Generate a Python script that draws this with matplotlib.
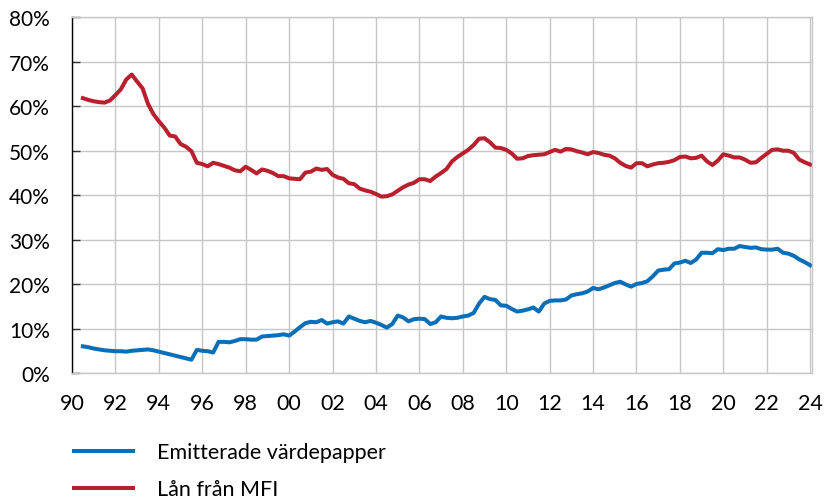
import numpy as np
import matplotlib.pyplot as plt

# kvartalsdata, andel i procent
years = np.arange(1990.5, 2024.01, 0.25)

emitterade = [
    6.1, 5.9, 5.6, 5.4, 5.2, 5.1, 5.0, 5.0, 4.9, 5.1, 5.2, 5.3, 5.4, 5.2,
    4.9, 4.6, 4.3, 4.0, 3.7, 3.4, 3.1, 5.3, 5.1, 5.0, 4.7, 7.1, 7.1, 7.0,
    7.3, 7.7, 7.7, 7.6, 7.6, 8.3, 8.4, 8.5, 8.6, 8.8, 8.5, 9.4, 10.4, 11.3,
    11.6, 11.5, 12.0, 11.2, 11.5, 11.7, 11.2, 12.8, 12.3, 11.8, 11.5, 11.8,
    11.4, 10.9, 10.3, 11.1, 13.0, 12.6, 11.7, 12.2, 12.3, 12.2, 11.1, 11.5,
    12.8, 12.5, 12.4, 12.5, 12.8, 13.0, 13.6, 15.7, 17.2, 16.7, 16.5, 15.3,
    15.2, 14.5, 13.9, 14.1, 14.4, 14.8, 13.9, 15.7, 16.3, 16.4, 16.4, 16.6,
    17.5, 17.8, 18.0, 18.4, 19.2, 18.9, 19.3, 19.8, 20.3, 20.6, 20.0, 19.5,
    20.1, 20.3, 20.7, 21.8, 23.1, 23.3, 23.4, 24.7, 24.9, 25.3, 24.8, 25.6,
    27.1, 27.1, 27.0, 27.9, 27.7, 28.0, 28.0, 28.6, 28.4, 28.2, 28.3, 27.9,
    27.8, 27.8, 28.0, 27.1, 26.9, 26.4, 25.6, 25.0, 24.3,
]

lan_mfi = [
    61.8, 61.4, 61.1, 60.9, 60.8, 61.3, 62.5, 63.8, 66.0, 67.1, 65.5, 64.0,
    60.5, 58.2, 56.6, 55.2, 53.4, 53.2, 51.5, 50.9, 49.9, 47.3, 47.0, 46.5,
    47.3, 47.0, 46.6, 46.2, 45.6, 45.4, 46.4, 45.7, 44.9, 45.8, 45.5, 45.0,
    44.3, 44.3, 43.8, 43.7, 43.6, 45.1, 45.3, 46.0, 45.7, 45.9, 44.6, 44.0,
    43.7, 42.7, 42.5, 41.5, 41.1, 40.8, 40.3, 39.7, 39.8, 40.2, 41.0, 41.8,
    42.4, 42.8, 43.6, 43.6, 43.2, 44.2, 45.0, 45.9, 47.6, 48.6, 49.4, 50.2,
    51.3, 52.7, 52.8, 51.9, 50.7, 50.6, 50.2, 49.4, 48.2, 48.3, 48.8, 49.0,
    49.1, 49.2, 49.7, 50.2, 49.8, 50.4, 50.3, 49.9, 49.6, 49.2, 49.7, 49.5,
    49.1, 48.9, 48.3, 47.3, 46.6, 46.2, 47.2, 47.2, 46.5, 46.9, 47.2, 47.3,
    47.5, 47.9, 48.6, 48.7, 48.3, 48.4, 48.9, 47.6, 46.8, 47.8, 49.2, 48.9,
    48.5, 48.5, 48.0, 47.3, 47.4, 48.4, 49.3, 50.2, 50.3, 50.0, 50.0, 49.5,
    48.0, 47.4, 46.9,
]

x_ticks = list(range(1990, 2025, 2))
x_labels = ['%02d' % (y % 100) for y in x_ticks]
y_ticks = list(range(0, 81, 10))
y_labels = ['%d%%' % v for v in y_ticks]

blue = '#0a6fb7'
red = '#b8202e'
grid_col = '#c6c6c6'

plt.rcParams['font.family'] = ['Lato', 'DejaVu Sans']

fig = plt.figure(figsize=(8.27, 5.02), dpi=100)
ax = fig.add_axes([0.0871, 0.254, 0.8949, 0.710])

ax.plot(years, emitterade, color=blue, linewidth=2.9, label='Emitterade värdepapper',
        solid_joinstyle='round')
ax.plot(years, lan_mfi, color=red, linewidth=2.9, label='Lån från MFI',
        solid_joinstyle='round')

ax.set_xlim(1990, 2024.09)
ax.set_ylim(0, 80)
ax.set_xticks(x_ticks)
ax.set_xticklabels(x_labels)
ax.set_yticks(y_ticks)
ax.set_yticklabels(y_labels)

ax.grid(True, color=grid_col, linewidth=1.0)
ax.set_axisbelow(True)
for side in ['top', 'right', 'bottom']:
    ax.spines[side].set_color(grid_col)
    ax.spines[side].set_linewidth(1.0)
ax.spines['left'].set_color('black')
ax.spines['left'].set_linewidth(1.0)

ax.tick_params(axis='y', direction='in', length=6, width=1, color='#333333',
               labelsize=15, pad=16)
ax.tick_params(axis='x', length=0, labelsize=15.5, pad=14)

fig.legend(loc='upper left', bbox_to_anchor=(0.0895, 0.117),
           frameon=False, fontsize=15.5, handlelength=2.75, handletextpad=1.1,
           labelspacing=0.8, borderaxespad=0, borderpad=0)

fig.savefig('out.png', dpi=100)
